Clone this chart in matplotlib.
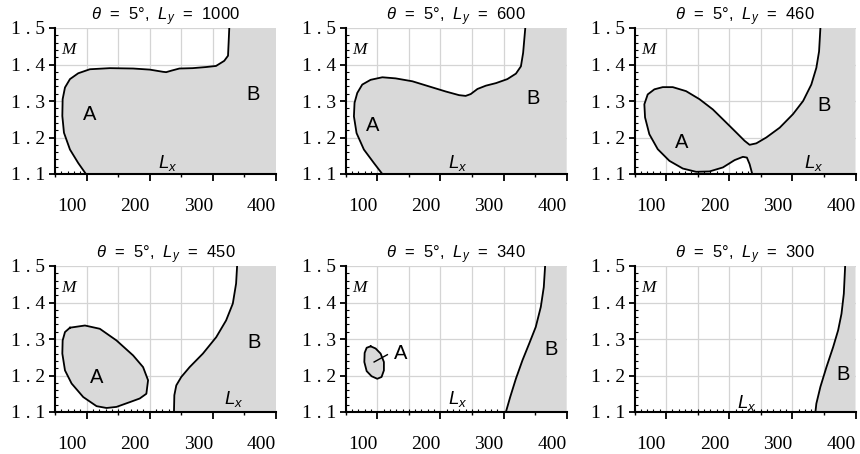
import matplotlib
matplotlib.use("Agg")
import matplotlib.pyplot as plt
from matplotlib.ticker import MultipleLocator, FuncFormatter, NullFormatter

plt.rcParams["mathtext.fontset"] = "custom"
plt.rcParams["mathtext.rm"] = "Liberation Sans"
plt.rcParams["mathtext.it"] = "Liberation Sans:italic"
plt.rcParams["font.family"] = ["Liberation Sans", "DejaVu Sans"]

# ---- data ---------------------------------------------------------------
ly_values = [1000, 600, 460, 450, 340, 300]
x_limits = (50, 400)
y_limits = (1.1, 1.5)

# boundary of the shaded (unstable) region, bottom edge -> top edge
b1_x = [99, 86.8, 73.7, 64.2, 61.6, 62.1, 65.8, 73.7, 86.8, 105.3, 136.8, 173.7,
        200, 221, 226, 234, 247, 268, 289, 305, 318, 324, 325, 326]
b1_y = [1.100, 1.130, 1.167, 1.213, 1.259, 1.305, 1.337, 1.360, 1.376, 1.387,
        1.390, 1.389, 1.386, 1.380, 1.379, 1.383, 1.389, 1.390, 1.393, 1.396,
        1.410, 1.424, 1.461, 1.500]

b2_x = [108, 94.7, 78.8, 67.2, 63.0, 64, 68.3, 76.2, 89.4, 108, 129, 155.6, 182,
        208.5, 229.6, 240, 248, 258.7, 272, 288, 306, 319.6, 327.5, 331, 332.8, 334.4]
b2_y = [1.100, 1.130, 1.167, 1.212, 1.258, 1.295, 1.322, 1.345, 1.358, 1.365,
        1.362, 1.354, 1.340, 1.326, 1.316, 1.314, 1.319, 1.333, 1.342, 1.349,
        1.360, 1.375, 1.395, 1.432, 1.468, 1.500]

b3_x = [236.5, 232.3, 228, 221.7, 208.5, 190, 168.8, 147.6, 126.5, 105.3, 86.8,
        73.5, 66.7, 65.6, 70.9, 81.5, 94.7, 110.6, 131.7, 152.9, 174, 195.2, 211,
        224.3, 232.3, 242.9, 258.7, 280, 301, 317, 330, 338, 342.3, 344.4]
b3_y = [1.100, 1.127, 1.145, 1.147, 1.138, 1.118, 1.107, 1.106, 1.115, 1.136,
        1.168, 1.209, 1.255, 1.291, 1.318, 1.332, 1.338, 1.338, 1.327, 1.305,
        1.277, 1.241, 1.214, 1.191, 1.180, 1.184, 1.200, 1.227, 1.264, 1.300,
        1.345, 1.391, 1.436, 1.500]

a4_x = [73.7, 97.4, 121, 147.4, 173.7, 189.5, 197.4, 194.7, 184.2, 168.4, 147.4,
        131.6, 115.8, 94.7, 76.3, 65.8, 61.6, 62.1, 65.8, 73.7]
a4_y = [1.331, 1.337, 1.328, 1.296, 1.255, 1.223, 1.187, 1.150, 1.137, 1.127,
        1.114, 1.111, 1.116, 1.141, 1.178, 1.214, 1.260, 1.296, 1.319, 1.331]
b4_x = [238.4, 239, 242.1, 250, 263.2, 284.2, 305.3, 321, 331.6, 336.8, 338.4]
b4_y = [1.100, 1.146, 1.173, 1.196, 1.223, 1.260, 1.305, 1.351, 1.397, 1.452, 1.500]

a5_x = [89.5, 97.4, 105.3, 110.5, 110.5, 106.8, 100, 91, 83.2, 79.5, 80, 83.2, 89.5]
a5_y = [1.280, 1.274, 1.260, 1.237, 1.214, 1.196, 1.191, 1.198, 1.212, 1.237,
        1.262, 1.276, 1.280]
b5_x = [303.7, 310.5, 319.5, 330, 340.5, 351, 359, 363.7, 365.8]
b5_y = [1.100, 1.141, 1.191, 1.242, 1.287, 1.333, 1.388, 1.442, 1.500]

b6_x = [336.5, 338, 344.4, 354, 364.6, 372.5, 377.8, 381.5, 383.6]
b6_y = [1.100, 1.123, 1.169, 1.223, 1.278, 1.324, 1.369, 1.424, 1.500]

# label anchors (x, y) for A and B, and for L_x
a_labels = [(105, 1.263), (93, 1.232), (124, 1.186), (116, 1.194), (137, 1.26), None]
b_labels = [(363, 1.318), (346, 1.308), (350, 1.288), (366, 1.290), (376, 1.271), (380, 1.202)]
lx_labels = [(228, 1.13), (228, 1.13), (333, 1.13), (333, 1.135), (228, 1.135), (228, 1.125)]
a5_leader_x = [95, 116]
a5_leader_y = [1.237, 1.257]

panels = [
    dict(open_curves=[(b1_x, b1_y)], loops=[]),
    dict(open_curves=[(b2_x, b2_y)], loops=[]),
    dict(open_curves=[(b3_x, b3_y)], loops=[]),
    dict(open_curves=[(b4_x, b4_y)], loops=[(a4_x, a4_y)]),
    dict(open_curves=[(b5_x, b5_y)], loops=[(a5_x, a5_y)]),
    dict(open_curves=[(b6_x, b6_y)], loops=[]),
]

# ---- layout -------------------------------------------------------------
W, H = 860, 454
fig = plt.figure(figsize=(W / 100, H / 100), dpi=100)
col_left = [55, 345.7, 634.5]
row_top = [28, 266]
ax_w, ax_h = 221, 146

SHADE = "#d9d9d9"
GRID = "#d4d4d4"
serif = ["Liberation Serif", "DejaVu Serif"]


def ytick_fmt(v, pos):
    s = f"{v:.1f}"
    return s.replace(".", " . ")


for i, spec in enumerate(panels):
    r, c = divmod(i, 3)
    left = col_left[c] / W
    bottom = 1 - (row_top[r] + ax_h) / H
    ax = fig.add_axes([left, bottom, ax_w / W, ax_h / H])
    ax.set_xlim(*x_limits)
    ax.set_ylim(*y_limits)

    # grid under the shading
    ax.set_axisbelow(True)
    for gx in range(100, 400, 50):
        ax.axvline(gx, color=GRID, lw=0.9, zorder=0)
    for gy in (1.2, 1.3, 1.4, 1.5):
        ax.axhline(gy, color=GRID, lw=0.9, zorder=0)

    xmax, ymin = x_limits[1], y_limits[0]
    ymax = y_limits[1]
    for cx, cy in spec["open_curves"]:
        ax.fill(list(cx) + [xmax, xmax], list(cy) + [ymax, ymin],
                color=SHADE, lw=0, zorder=1)
        ax.plot(cx, cy, color="black", lw=1.3, zorder=3, solid_joinstyle="round")
    for lx_, ly_ in spec["loops"]:
        ax.fill(lx_, ly_, color=SHADE, lw=0, zorder=1)
        ax.plot(lx_, ly_, color="black", lw=1.3, zorder=3, solid_joinstyle="round")

    # spines
    for s in ("top", "right"):
        ax.spines[s].set_visible(False)
    for s in ("left", "bottom"):
        ax.spines[s].set_linewidth(1.5)
        ax.spines[s].set_zorder(4)

    # ticks
    ax.xaxis.set_major_locator(MultipleLocator(100))
    ax.xaxis.set_minor_locator(MultipleLocator(10))
    ax.yaxis.set_major_locator(MultipleLocator(0.1))
    ax.yaxis.set_minor_locator(MultipleLocator(0.02))
    ax.tick_params(axis="x", which="major", direction="out", length=5, width=1.3,
                   pad=12, labelsize=14)
    ax.tick_params(axis="y", which="major", direction="out", length=4, width=1.3,
                   pad=3, labelsize=14)
    ax.tick_params(which="minor", direction="in", length=2, width=0.8)
    ax.yaxis.set_major_formatter(FuncFormatter(ytick_fmt))
    for lab in ax.get_xticklabels() + ax.get_yticklabels():
        lab.set_family(serif)
    for lab in ax.get_xticklabels():
        lab.set_horizontalalignment("right")
    sec = ax.secondary_xaxis("bottom")
    sec.set_xticks([50, 150, 250, 350])
    sec.xaxis.set_major_formatter(NullFormatter())
    sec.tick_params(direction="out", length=2.5, width=1.0)
    sec.spines["bottom"].set_visible(False)

    ax.set_title(r"$\theta$  =  5°,  $L_y$  =  " + str(ly_values[i]),
                 fontsize=12, pad=5)

    ax.text(72, 1.44, "M", family=serif, style="italic", fontsize=12.5,
            ha="center", va="center", zorder=5)
    lxp = lx_labels[i]
    ax.text(lxp[0], lxp[1], r"$L_x$", fontsize=13.5, ha="center", va="center", zorder=5)
    if a_labels[i] is not None:
        ax.text(a_labels[i][0], a_labels[i][1], "A", fontsize=14.5,
                ha="center", va="center", zorder=5)
    ax.text(b_labels[i][0], b_labels[i][1], "B", fontsize=14.5,
            ha="center", va="center", zorder=5)
    if i == 4:
        ax.plot(a5_leader_x, a5_leader_y, color="black", lw=1.0, zorder=4)

fig.savefig("out.png", dpi=100)
